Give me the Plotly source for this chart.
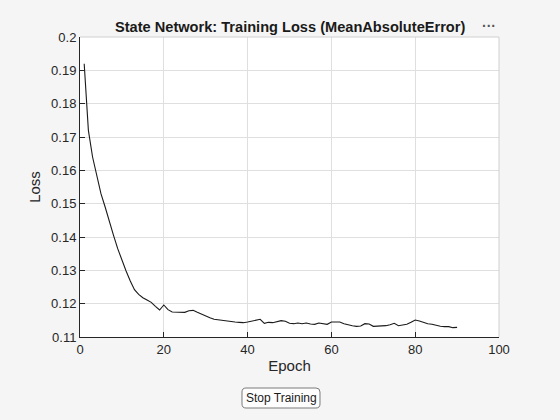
import plotly.graph_objects as go

epochs = list(range(1, 91))
loss = [
    0.1920, 0.1720, 0.1640, 0.1580, 0.1530, 0.1490, 0.1445, 0.1405, 0.1365, 0.1330,
    0.1298, 0.1268, 0.1242, 0.1228, 0.1218, 0.1211, 0.1204, 0.1192, 0.1181, 0.1196,
    0.1182, 0.1175, 0.1174, 0.1173, 0.1174, 0.1179, 0.1180, 0.1174, 0.1168, 0.1163,
    0.1158, 0.1153, 0.1151, 0.1150, 0.1148, 0.1147, 0.1145, 0.1144, 0.1143, 0.1145,
    0.1147, 0.1149, 0.1153, 0.1141, 0.1144, 0.1143, 0.1147, 0.1149, 0.1147, 0.1141,
    0.1140, 0.1142, 0.1140, 0.1142, 0.1139, 0.1138, 0.1142, 0.1139, 0.1138, 0.1145,
    0.1146, 0.1145, 0.1140, 0.1136, 0.1134, 0.1132, 0.1133, 0.1140, 0.1139, 0.1132,
    0.1132, 0.1132, 0.1134, 0.1137, 0.1141, 0.1134, 0.1137, 0.1138, 0.1144, 0.1151,
    0.1148, 0.1143, 0.1140, 0.1138, 0.1134, 0.1132, 0.1131, 0.1131, 0.1128, 0.1129,
]
x_ticks = [0, 20, 40, 60, 80, 100]
y_ticks = [0.11, 0.12, 0.13, 0.14, 0.15, 0.16, 0.17, 0.18, 0.19, 0.2]
y_tick_labels = ["0.11", "0.12", "0.13", "0.14", "0.15", "0.16", "0.17", "0.18", "0.19", "0.2"]

FONT = "Arial, Liberation Sans, sans-serif"
BG = "#f5f5f5"
# page body has an 8px offset; size the figure so the plot lands where the reference has it
OFF = 8
W, H = 560 - OFF, 420 - OFF
L, R, T, B = 80 - OFF, 61, 37 - OFF, 83
pw, ph = W - L - R, H - T - B

fig = go.Figure()
fig.add_trace(go.Scatter(x=epochs, y=loss, mode="lines",
                         line=dict(color="#1a1a1a", width=1.1),
                         hoverinfo="x+y", showlegend=False))

axis_common = dict(showgrid=True, gridcolor="#dfdfdf", gridwidth=1,
                   zeroline=False, showline=True, linecolor="#262626", linewidth=1,
                   ticks="inside", ticklen=5, tickcolor="#262626", tickwidth=1,
                   tickfont=dict(family=FONT, size=13, color="#262626"))

fig.update_xaxes(range=[0, 100], tickvals=x_ticks, title=dict(text="Epoch", standoff=4,
                 font=dict(family=FONT, size=15, color="#262626")), **axis_common)
fig.update_yaxes(range=[0.11, 0.2], tickvals=y_ticks, ticktext=y_tick_labels,
                 title=dict(text="Loss", standoff=6, font=dict(family=FONT, size=15, color="#262626")),
                 **axis_common)

def px2paper(px, py):
    # px, py given in reference-window pixels
    return (px - OFF - L) / pw, (H - B - (py - OFF)) / ph

# light top/right border
fig.add_shape(type="line", xref="paper", yref="paper", x0=0, y0=1, x1=1, y1=1,
              line=dict(color="#d0d0d0", width=1))
fig.add_shape(type="line", xref="paper", yref="paper", x0=1, y0=0, x1=1, y1=1,
              line=dict(color="#d0d0d0", width=1))

# button (rounded rect)
bx0, bx1, by0, by1, r = 242, 320, 388, 408, 4
def P(px, py):
    a, b = px2paper(px, py)
    return f"{a:.5f},{b:.5f}"
path = (f"M {P(bx0 + r, by0)} L {P(bx1 - r, by0)} Q {P(bx1, by0)} {P(bx1, by0 + r)} "
        f"L {P(bx1, by1 - r)} Q {P(bx1, by1)} {P(bx1 - r, by1)} "
        f"L {P(bx0 + r, by1)} Q {P(bx0, by1)} {P(bx0, by1 - r)} "
        f"L {P(bx0, by0 + r)} Q {P(bx0, by0)} {P(bx0 + r, by0)} Z")
fig.add_shape(type="path", xref="paper", yref="paper", path=path,
              fillcolor="#fdfdfd", line=dict(color="#7a7a7a", width=1))
bx, by = px2paper((bx0 + bx1) / 2, (by0 + by1) / 2)
fig.add_annotation(x=bx, y=by, xref="paper", yref="paper", text="Stop Training",
                   showarrow=False, font=dict(family=FONT, size=12, color="#1a1a1a"),
                   xanchor="center", yanchor="middle")

# title and ellipsis
tx, ty = px2paper(290, 27)
fig.add_annotation(x=tx, y=ty, xref="paper", yref="paper",
                   text="<b>State Network: Training Loss (MeanAbsoluteError)</b>",
                   showarrow=False, font=dict(family=FONT, size=14.6, color="#1a1a1a"),
                   xanchor="center", yanchor="middle")
ex, ey = px2paper(489, 26)
fig.add_annotation(x=ex, y=ey, xref="paper", yref="paper", text="<b>···</b>",
                   showarrow=False, font=dict(family=FONT, size=14, color="#555555"),
                   xanchor="center", yanchor="middle")

fig.update_layout(width=W, height=H, margin=dict(l=L, r=R, t=T, b=B),
                  paper_bgcolor=BG, plot_bgcolor="#ffffff",
                  font=dict(family=FONT))

fig.write_html("out.html",
               post_script=f"document.body.style.background='{BG}';"
                           f"document.documentElement.style.background='{BG}';")
